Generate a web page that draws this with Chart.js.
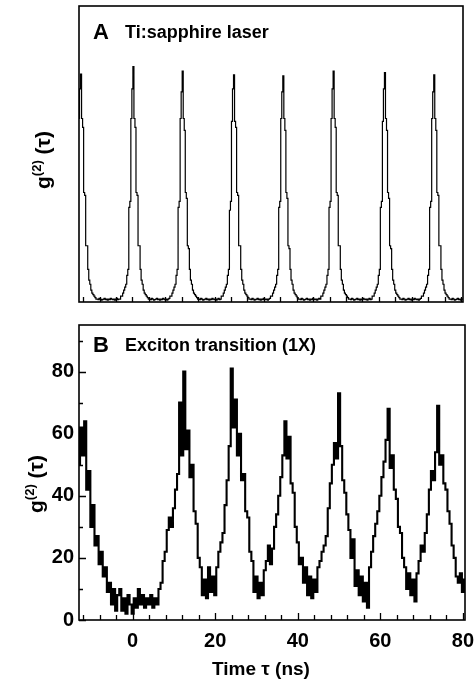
<!DOCTYPE html>
<html>
<head>
<meta charset="utf-8">
<script src="https://cdn.jsdelivr.net/npm/chart.js@4.4.1/dist/chart.umd.min.js"></script>
<style>
  body { margin: 0; background: #fff; }
  #wrap { position: relative; width: 474px; height: 684px; }
  canvas { position: absolute; left: 0; }
  #chartA { top: 0; }
  #chartB { top: 320px; }
</style>
</head>
<body>
<div id="wrap">
  <canvas id="chartA" width="474" height="320"></canvas>
  <canvas id="chartB" width="474" height="364"></canvas>
</div>
<script>
// Time axis (ns)
const xMin = -13;
const xMax = 80.5;
const laserBinStart = -13;
const laserBinWidth = 0.25;
const excitonBinStart = -13;
const excitonBinWidth = 0.5;

// Axis ticks
const xTickLabels = [0, 20, 40, 60, 80];
const xMinorTicks = [-12, -8, -4, 4, 8, 12, 16, 24, 28, 32, 36, 44, 48, 52, 56, 64, 68, 72, 76];
const yTickLabelsB = [0, 20, 40, 60, 80];
const yMinorTicksB = [10, 30, 50, 70, 90];

// Panel A: Ti:sapphire laser, normalised counts (0.25 ns bins)
const laserCounts = [
    0.62, 0.72, 0.77, 0.62, 0.59, 0.37, 0.36, 0.19, 0.19, 0.11, 0.074, 0.06, 0.04, 0.03, 0.025, 0.02, 0.015, 0.01,
    0.01, 0.008, 0.012, 0.01, 0.006, 0.008, 0.01, 0.012, 0.008, 0.01, 0.006, 0.01, 0.008, 0.012, 0.01, 0.008, 0.01, 0.006, 0.01, 0.012, 0.008, 0.01, 0.01,
    0.02, 0.02, 0.03, 0.04, 0.05, 0.06, 0.09, 0.11, 0.32, 0.34, 0.62, 0.72, 0.795, 0.62, 0.59, 0.37, 0.36, 0.19, 0.19, 0.11, 0.074, 0.06, 0.04, 0.03, 0.025, 0.02, 0.015, 0.01,
    0.01, 0.008, 0.012, 0.01, 0.006, 0.008, 0.01, 0.012, 0.008, 0.01, 0.006, 0.01, 0.008, 0.012, 0.01, 0.008, 0.01, 0.006, 0.01, 0.012,
    0.02, 0.02, 0.03, 0.04, 0.05, 0.06, 0.09, 0.11, 0.32, 0.34, 0.62, 0.71, 0.78, 0.62, 0.58, 0.37, 0.35, 0.19, 0.18, 0.11, 0.074, 0.06, 0.04, 0.03, 0.025, 0.02, 0.015, 0.01,
    0.01, 0.008, 0.012, 0.01, 0.006, 0.008, 0.01, 0.012, 0.008, 0.01, 0.006, 0.01, 0.008, 0.012, 0.01, 0.008, 0.01, 0.006, 0.01, 0.012, 0.008, 0.01,
    0.02, 0.02, 0.03, 0.04, 0.05, 0.06, 0.09, 0.11, 0.31, 0.34, 0.61, 0.72, 0.767, 0.61, 0.59, 0.37, 0.36, 0.19, 0.19, 0.11, 0.074, 0.06, 0.04, 0.03, 0.025, 0.02, 0.015, 0.01,
    0.01, 0.008, 0.012, 0.01, 0.006, 0.008, 0.01, 0.012, 0.008, 0.01, 0.006, 0.01, 0.008, 0.012, 0.01, 0.008, 0.01, 0.006, 0.01, 0.012,
    0.02, 0.02, 0.03, 0.04, 0.05, 0.06, 0.09, 0.11, 0.32, 0.34, 0.62, 0.71, 0.764, 0.62, 0.58, 0.37, 0.35, 0.19, 0.18, 0.11, 0.074, 0.06, 0.04, 0.03, 0.025, 0.02, 0.015, 0.01,
    0.01, 0.008, 0.012, 0.01, 0.006, 0.008, 0.01, 0.012, 0.008, 0.01, 0.006, 0.01, 0.008, 0.012, 0.01, 0.008, 0.01, 0.006, 0.01, 0.012, 0.01,
    0.02, 0.02, 0.03, 0.04, 0.05, 0.06, 0.09, 0.11, 0.32, 0.34, 0.62, 0.72, 0.78, 0.62, 0.59, 0.37, 0.36, 0.19, 0.19, 0.11, 0.074, 0.06, 0.04, 0.03, 0.025, 0.02, 0.015, 0.01,
    0.01, 0.008, 0.012, 0.01, 0.006, 0.008, 0.01, 0.012, 0.008, 0.01, 0.006, 0.01, 0.008, 0.012, 0.01, 0.008, 0.01, 0.006, 0.01, 0.012, 0.008, 0.01,
    0.02, 0.02, 0.03, 0.04, 0.05, 0.06, 0.09, 0.11, 0.32, 0.34, 0.61, 0.72, 0.775, 0.62, 0.58, 0.37, 0.35, 0.19, 0.18, 0.11, 0.074, 0.06, 0.04, 0.03, 0.025, 0.02, 0.015, 0.01,
    0.01, 0.008, 0.012, 0.01, 0.006, 0.008, 0.01, 0.012, 0.008, 0.01, 0.006, 0.01, 0.008, 0.012, 0.01, 0.008, 0.01, 0.006, 0.01, 0.012,
    0.02, 0.02, 0.03, 0.04, 0.05, 0.06, 0.09, 0.11, 0.32, 0.34, 0.62, 0.71, 0.767, 0.62, 0.58, 0.37, 0.36, 0.19, 0.19, 0.11, 0.074, 0.06, 0.04, 0.03, 0.025, 0.02, 0.015, 0.01,
    0.01, 0.008, 0.012, 0.01, 0.006, 0.008, 0.01, 0.012, 0.008, 0.01, 0.006, 0.01, 0.01
];

// Panel B: exciton transition (1X), g2 counts (0.5 ns bins)
const excitonCounts = [
    50, 62, 53, 64, 42, 48, 30, 37, 24, 27,
    18, 22, 14, 17, 9, 12, 5, 10, 3, 8,
    10, 3, 7, 2, 8, 5, 2, 7, 4, 10,
    5, 8, 4, 7, 5, 8, 4, 7, 5, 10,
    12, 19, 22, 29, 33, 30, 36, 42, 47, 70,
    53, 80, 55, 61, 46, 50, 35, 31, 20, 17,
    8, 13, 7, 17, 9, 14, 8, 17, 22, 25,
    28, 37, 45, 56, 81, 62, 71, 53, 60, 45,
    47, 35, 33, 22, 19, 9, 14, 7, 12, 8,
    16, 19, 24, 18, 23, 30, 34, 40, 46, 53,
    64, 52, 59, 44, 41, 30, 25, 18, 20, 12,
    17, 8, 14, 7, 13, 9, 17, 19, 22, 24,
    27, 36, 44, 50, 57, 52, 73, 56, 45, 41,
    34, 29, 20, 26, 11, 16, 8, 14, 6, 12,
    4, 17, 22, 27, 31, 35, 40, 46, 51, 58,
    68, 49, 53, 42, 39, 30, 28, 20, 17, 10,
    15, 8, 13, 6, 15, 19, 24, 22, 28, 34,
    42, 48, 45, 54, 69, 50, 53, 44, 42, 35,
    31, 24, 20, 14, 12, 15, 9, 13
];

const FONT = '"Liberation Sans", Arial, Helvetica, sans-serif';

const toPoints = (counts, start, width) => counts.map((v, i) => ({ x: start + i * width, y: v }));

function drawYTitle(ctx, baseX, cy) {
    ctx.save();
    ctx.translate(baseX, cy);
    ctx.rotate(-Math.PI / 2);
    ctx.textBaseline = 'alphabetic';
    ctx.textAlign = 'left';
    const big = 'bold 21px ' + FONT;
    const small = 'bold 13px ' + FONT;
    ctx.font = big;
    const wg = ctx.measureText('g').width;
    const wt = ctx.measureText(' (τ)').width;
    ctx.font = small;
    const ws = ctx.measureText('(2)').width;
    let x = -(wg + ws + wt) / 2;
    ctx.font = big;
    ctx.fillText('g', x, 0);
    x += wg;
    ctx.font = small;
    ctx.fillText('(2)', x, -9);
    x += ws;
    ctx.font = big;
    ctx.fillText(' (τ)', x, 0);
    ctx.restore();
}

// Frame, inward ticks and in-plot labels
const framePlugin = {
    id: 'frame',
    afterDraw(chart, args, opts) {
        const { ctx, chartArea: a, scales } = chart;
        ctx.save();
        ctx.strokeStyle = '#000';
        ctx.fillStyle = '#000';

        ctx.lineWidth = 1.3;
        ctx.beginPath();
        xTickLabels.concat(xMinorTicks).forEach(v => {
            const px = Math.round(scales.x.getPixelForValue(v)) + 0.5;
            const len = xTickLabels.includes(v) ? opts.xMajorLen : opts.xMinorLen;
            ctx.moveTo(px, a.bottom);
            ctx.lineTo(px, a.bottom - len);
        });
        if (opts.yTicks) {
            yTickLabelsB.concat(yMinorTicksB).forEach(v => {
                const py = Math.round(scales.y.getPixelForValue(v)) + 0.5;
                const len = yTickLabelsB.includes(v) ? 7 : 4;
                ctx.moveTo(a.left, py);
                ctx.lineTo(a.left + len, py);
            });
        }
        ctx.stroke();

        ctx.lineWidth = 1.6;
        ctx.strokeRect(a.left, a.top, a.right - a.left, a.bottom - a.top);

        ctx.textBaseline = 'middle';
        ctx.textAlign = 'left';
        ctx.font = 'bold 22px ' + FONT;
        ctx.fillText(opts.letter, a.left + 14, a.top + opts.labelDy);
        ctx.font = 'bold 18px ' + FONT;
        ctx.fillText(opts.label, a.left + 46, a.top + opts.labelDy);

        drawYTitle(ctx, opts.yTitleX, opts.yTitleY);

        if (opts.xTitle) {
            ctx.textAlign = 'center';
            ctx.textBaseline = 'middle';
            ctx.font = 'bold 19px ' + FONT;
            ctx.fillText(opts.xTitle, 261, opts.xTitleY);
        }
        ctx.restore();
    }
};

function makeChart(id, points, cfg) {
    return new Chart(document.getElementById(id), {
        type: 'line',
        data: {
            datasets: [{
                data: points,
                borderColor: '#000',
                borderWidth: cfg.lineWidth,
                pointRadius: 0,
                stepped: 'middle',
                fill: false
            }]
        },
        options: {
            responsive: false,
            animation: false,
            devicePixelRatio: 1,
            layout: { padding: cfg.padding },
            plugins: {
                legend: { display: false },
                tooltip: { enabled: false },
                frame: cfg.frame
            },
            scales: {
                x: {
                    type: 'linear',
                    min: xMin,
                    max: xMax,
                    grid: { display: false, drawTicks: false },
                    border: { display: false },
                    afterBuildTicks: s => { s.ticks = xTickLabels.map(v => ({ value: v })); },
                    afterFit: s => {
                        s.height = cfg.xHeight;
                        s.paddingLeft = 0;
                        s.paddingRight = 0;
                    },
                    ticks: {
                        display: cfg.xLabels,
                        padding: 9,
                        color: '#000',
                        maxRotation: 0,
                        autoSkip: false,
                        font: { family: FONT, size: 20, weight: 'bold' }
                    }
                },
                y: {
                    type: 'linear',
                    min: 0,
                    max: cfg.yMax,
                    grid: { display: false, drawTicks: false },
                    border: { display: false },
                    afterBuildTicks: s => { s.ticks = cfg.yTicks.map(v => ({ value: v })); },
                    afterFit: s => {
                        s.width = 79;
                        s.paddingTop = 0;
                        s.paddingBottom = 0;
                    },
                    ticks: {
                        display: cfg.yLabels,
                        padding: 5,
                        color: '#000',
                        font: { family: FONT, size: 20, weight: 'bold' }
                    }
                }
            }
        },
        plugins: [framePlugin]
    });
}

makeChart('chartA', toPoints(laserCounts, laserBinStart, laserBinWidth), {
    lineWidth: 1.2,
    padding: { top: 6, right: 11, left: 0, bottom: 0 },
    xHeight: 18,
    xLabels: false,
    yMax: 1,
    yTicks: [],
    yLabels: false,
    frame: {
        letter: 'A', label: 'Ti:sapphire laser', labelDy: 27,
        xMajorLen: 5, xMinorLen: 5, yTicks: false,
        yTitleX: 50, yTitleY: 160
    }
});

makeChart('chartB', toPoints(excitonCounts, excitonBinStart, excitonBinWidth), {
    lineWidth: 2.1,
    padding: { top: 5, right: 9, left: 0, bottom: 0 },
    xHeight: 64,
    xLabels: true,
    yMax: 95,
    yTicks: yTickLabelsB,
    yLabels: true,
    frame: {
        letter: 'B', label: 'Exciton transition (1X)', labelDy: 21,
        xMajorLen: 7, xMinorLen: 5, yTicks: true,
        yTitleX: 43, yTitleY: 164,
        xTitle: 'Time τ (ns)', xTitleY: 350
    }
});
</script>
</body>
</html>
